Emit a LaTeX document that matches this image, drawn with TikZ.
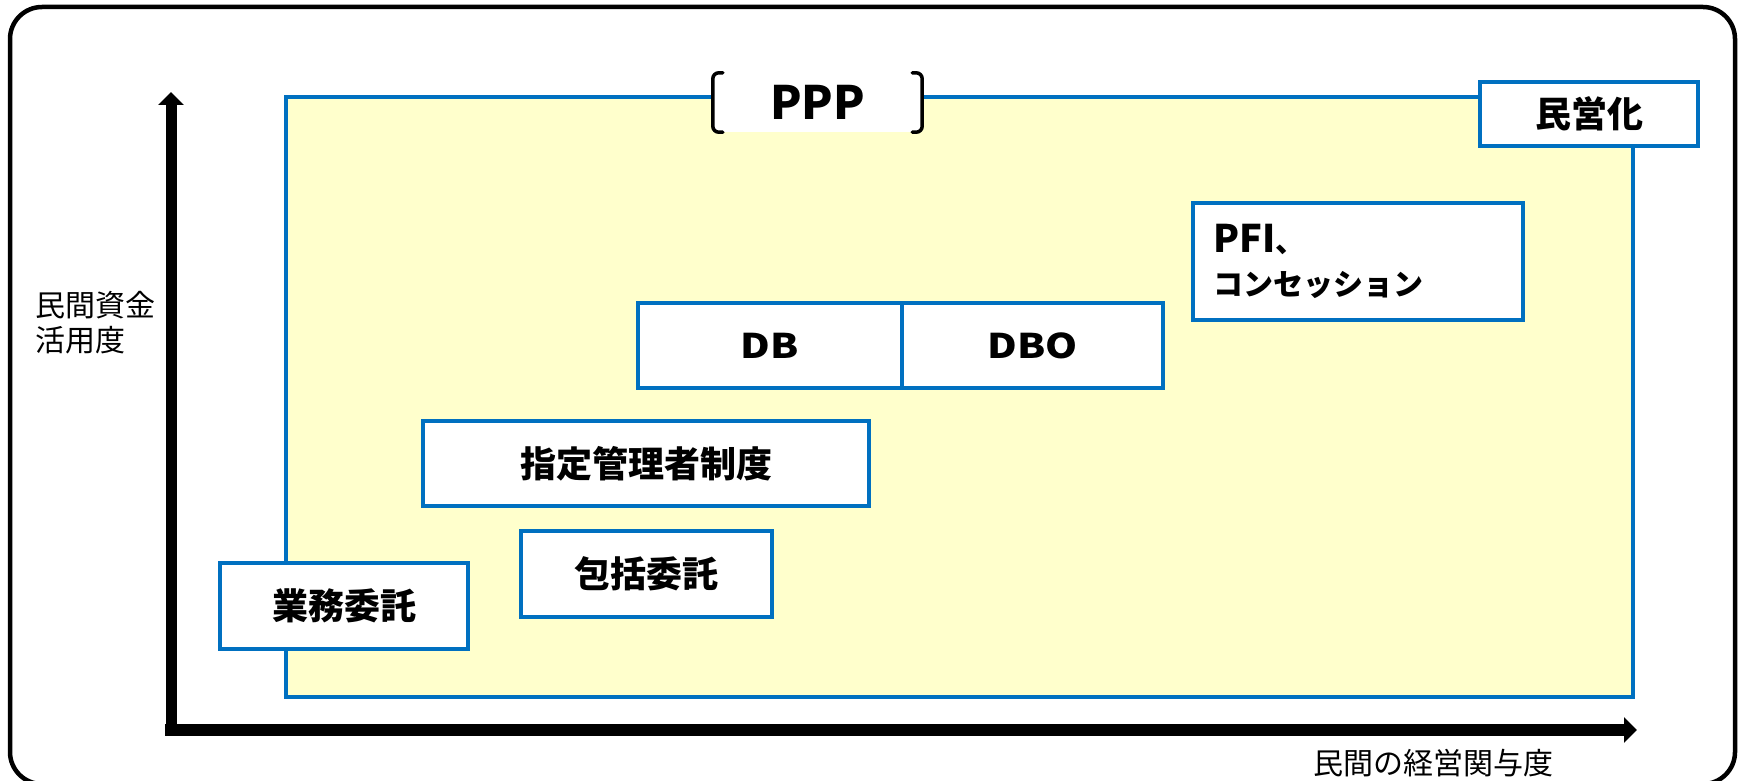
\documentclass[tikz,border=0pt]{standalone}
\usepackage{fontspec}
\setmainfont{Noto Sans CJK JP}
\newfontfamily\widefont[FakeStretch=1.2]{Noto Sans CJK JP}
\usetikzlibrary{arrows.meta}
\definecolor{pblue}{RGB}{0,112,192}
\definecolor{pyellow}{RGB}{255,255,204}
\tikzset{
  box/.style={draw=pblue, line width=3.5pt, fill=white, inner sep=0pt, font=\fontsize{36}{40}\selectfont\bfseries},
  axislabel/.style={inner sep=0pt, font=\fontsize{30}{35}\selectfont},
  axisline/.style={line width=11pt, -{Triangle[width=25pt,length=13pt]}},
  bracket/.style={line width=3.5pt, rounded corners=6pt, line cap=round}
}
\begin{document}
\begin{tikzpicture}[x=1pt,y=-1pt]
\useasboundingbox (0,0) rectangle (1745,781);
% outer frame
\draw[line width=4.5pt, rounded corners=32pt] (10,7) rectangle (1735,784);
% PPP area
\node[draw=pblue, line width=3.5pt, fill=pyellow, minimum width=1347pt, minimum height=600pt, inner sep=0pt] (ppparea) at (959.5,397) {};
% PPP label
\node[fill=white, minimum width=209pt, minimum height=59pt, inner sep=0pt, font=\fontsize{46}{50}\selectfont\bfseries] (ppp) at (817.5,102.5) {PPP};
\draw[bracket] ([xshift=10pt]ppp.north west) -- (ppp.north west) -- (ppp.south west) -- ([xshift=10pt]ppp.south west);
\draw[bracket] ([xshift=-10pt]ppp.north east) -- (ppp.north east) -- (ppp.south east) -- ([xshift=-10pt]ppp.south east);
% boxes
\node[box, minimum width=248pt, minimum height=86pt] (gyomu) at (344,606) {業務委託};
\node[box, minimum width=251pt, minimum height=86pt] (hokatsu) at (646.5,574) {包括委託};
\node[box, minimum width=446pt, minimum height=85pt] (shitei) at (646,463.5) {指定管理者制度};
\node[box, minimum width=264pt, minimum height=85pt, font=\fontsize{34}{38}\selectfont\bfseries\widefont] (db) at (770,345.5) {DB};
\node[box, minimum width=261pt, minimum height=85pt, font=\fontsize{34}{38}\selectfont\bfseries\widefont] (dbo) at (1032.5,345.5) {DBO};
\node[box, minimum width=330pt, minimum height=117pt, text width=290pt, inner xsep=20pt, align=left, font=\fontsize{30}{43}\selectfont\bfseries] (pfi) at (1358,261.5) {{\fontsize{38}{43}\selectfont PFI}、\\コンセッション};
\node[box, minimum width=218pt, minimum height=64pt] (mineika) at (1589,114) {民営化};
% axes
\coordinate (origin) at (171,736);
\coordinate (ytip) at (171,92);
\coordinate (xstart) at (165,730);
\coordinate (xtip) at (1637,730);
\draw[axisline] (origin) -- (ytip);
\draw[axisline, line width=12pt] (xstart) -- (xtip);
% axis labels
\node[axislabel, anchor=north west, align=left] (ylabel) at (35,291) {民間資金\\活用度};
\node[axislabel] (xlabel) at (1433,763) {民間の経営関与度};
\end{tikzpicture}
\end{document}
